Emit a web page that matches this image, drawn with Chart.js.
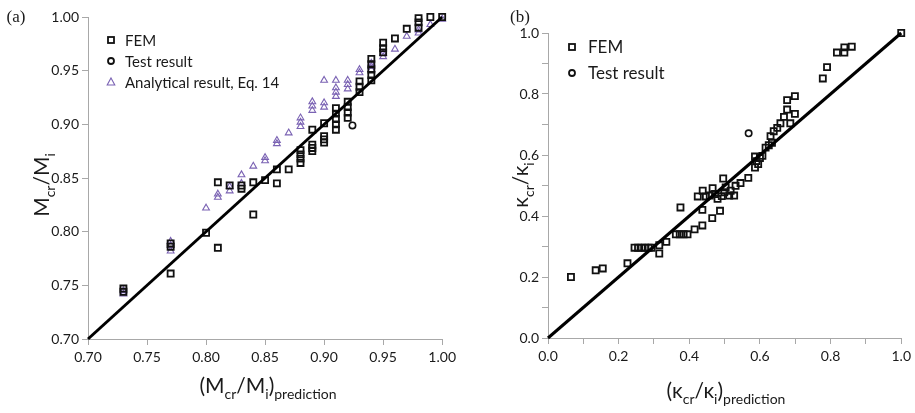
<!DOCTYPE html>
<html>
<head>
<meta charset="utf-8">
<script src="https://cdn.jsdelivr.net/npm/chart.js@4.4.0/dist/chart.umd.min.js"></script>
<style>
  html, body { margin: 0; padding: 0; background: #fff; }
  #wrap { position: relative; width: 915px; height: 413px; overflow: hidden; }
  canvas { position: absolute; top: 0; }
  #chartA { left: 0; }
  #chartB { left: 460px; }
</style>
</head>
<body>
<div id="wrap">
  <canvas id="chartA" width="460" height="413"></canvas>
  <canvas id="chartB" width="455" height="413"></canvas>
</div>
<script>
// ---------- (a) moment ratio Mcr/Mi ----------
const femA = [
  [0.73,0.747],[0.73,0.744],
  [0.77,0.789],[0.77,0.786],[0.77,0.761],
  [0.80,0.799],
  [0.81,0.846],[0.81,0.785],
  [0.82,0.843],
  [0.83,0.843],[0.83,0.840],
  [0.84,0.846],[0.84,0.816],
  [0.85,0.848],
  [0.86,0.858],[0.86,0.845],
  [0.87,0.858],
  [0.88,0.876],[0.88,0.872],[0.88,0.868],[0.88,0.864],
  [0.89,0.895],[0.89,0.881],[0.89,0.878],[0.89,0.875],
  [0.90,0.901],[0.90,0.889],[0.90,0.886],[0.90,0.883],
  [0.91,0.915],[0.91,0.910],[0.91,0.905],[0.91,0.900],[0.91,0.895],
  [0.92,0.921],[0.92,0.916],[0.92,0.911],[0.92,0.906],
  [0.93,0.940],[0.93,0.935],[0.93,0.930],
  [0.94,0.961],[0.94,0.956],[0.94,0.951],[0.94,0.946],[0.94,0.941],
  [0.95,0.976],[0.95,0.971],[0.95,0.967],
  [0.96,0.980],
  [0.97,0.989],
  [0.98,0.999],[0.98,0.995],[0.98,0.990],
  [0.99,1.000],
  [1.00,1.000]
];
const testA = [[0.924,0.899]];
const analyticA = [
  [0.73,0.742],[0.73,0.745],
  [0.77,0.782],[0.77,0.787],[0.77,0.791],
  [0.80,0.822],
  [0.81,0.832],[0.81,0.835],
  [0.82,0.838],[0.82,0.842],
  [0.83,0.845],[0.83,0.853],
  [0.84,0.861],
  [0.85,0.866],[0.85,0.869],
  [0.86,0.882],[0.86,0.885],
  [0.87,0.892],
  [0.88,0.906],[0.88,0.902],[0.88,0.898],
  [0.89,0.921],[0.89,0.917],[0.89,0.913],
  [0.90,0.941],[0.90,0.920],[0.90,0.916],
  [0.91,0.941],[0.91,0.934],[0.91,0.930],[0.91,0.926],
  [0.92,0.941],[0.92,0.937],[0.92,0.933],
  [0.93,0.951],[0.93,0.948],
  [0.94,0.957],[0.94,0.954],[0.94,0.951],
  [0.95,0.966],[0.95,0.963],
  [0.96,0.970],
  [0.97,0.982],
  [0.98,0.988],[0.98,0.985],
  [0.99,0.993],
  [1.00,0.998]
];
const equalityA = [[0.70,0.70],[1.00,1.00]];

// ---------- (b) curvature ratio κcr/κi ----------
const femB = [
  [0.065,0.200],[0.135,0.222],[0.155,0.228],[0.225,0.245],
  [0.245,0.296],[0.255,0.296],[0.265,0.296],[0.275,0.296],[0.285,0.296],[0.293,0.296],
  [0.315,0.304],[0.315,0.277],[0.335,0.315],
  [0.375,0.428],[0.362,0.340],[0.373,0.340],[0.384,0.340],[0.395,0.340],
  [0.415,0.356],[0.437,0.369],[0.437,0.420],[0.465,0.393],[0.487,0.417],
  [0.424,0.464],[0.438,0.483],[0.447,0.464],[0.458,0.467],[0.466,0.491],
  [0.473,0.472],[0.480,0.456],[0.492,0.465],[0.499,0.478],[0.503,0.494],
  [0.513,0.467],[0.517,0.483],[0.527,0.467],[0.531,0.499],[0.545,0.508],
  [0.567,0.525],[0.496,0.523],[0.586,0.559],[0.586,0.595],
  [0.590,0.580],[0.600,0.590],[0.607,0.597],[0.595,0.570],
  [0.616,0.624],[0.625,0.632],[0.634,0.640],[0.630,0.662],[0.639,0.678],
  [0.649,0.689],[0.658,0.704],[0.686,0.704],[0.668,0.725],[0.699,0.735],
  [0.677,0.749],[0.677,0.780],[0.699,0.793],
  [0.778,0.851],[0.790,0.888],[0.818,0.936],[0.839,0.936],[0.839,0.953],[0.860,0.955],
  [1.000,1.000]
];
const testB = [[0.568,0.671]];
const equalityB = [[0.0,0.0],[1.0,1.0]];

// tick settings
const ticksA = { min: 0.70, max: 1.00, step: 0.05, digits: 2 };
const ticksB = { min: 0.0, max: 1.0, step: 0.1, digits: 1, labelEvery: 2 };

const pts = arr => arr.map(p => ({ x: p[0], y: p[1] }));

const AXIS_GREY = '#a8a8a8';
const TEXT = '#1a1a1a';
const PURPLE = '#7a62b3';

function axis(t, size, isX) {
  return {
    type: 'linear',
    min: t.min, max: t.max,
    afterFit: s => { if (isX) s.height = size; else s.width = size; },
    ticks: {
      stepSize: t.step,
      autoSkip: false,
      maxRotation: 0,
      padding: isX ? 4 : 3,
      color: TEXT,
      font: { family: 'Lato', size: 14 },
      callback: v => {
        if (t.labelEvery) {
          const k = Math.round((v - t.min) / t.step);
          return k % t.labelEvery === 0 ? Number(v).toFixed(t.digits) : '';
        }
        return Number(v).toFixed(t.digits);
      }
    },
    grid: { drawOnChartArea: false, drawTicks: true, tickLength: 6, color: AXIS_GREY, lineWidth: 1 },
    border: { display: true, color: AXIS_GREY, width: 1 }
  };
}

// rich text with subscripts: parts = [[text, isSub], ...]
function drawRich(ctx, parts, cx, baseline, size, rotate) {
  const mainFont = size + 'px Lato';
  const subFont = Math.round(size * 0.66) + 'px Lato';
  ctx.save();
  let total = 0;
  const widths = parts.map(p => { ctx.font = p[1] ? subFont : mainFont; const w = ctx.measureText(p[0]).width; total += w; return w; });
  if (rotate) { ctx.translate(cx, baseline); ctx.rotate(-Math.PI / 2); ctx.translate(-cx, -baseline); }
  let x = cx - total / 2;
  ctx.fillStyle = TEXT;
  ctx.textBaseline = 'alphabetic';
  ctx.textAlign = 'left';
  parts.forEach((p, i) => {
    ctx.font = p[1] ? subFont : mainFont;
    ctx.fillText(p[0], x, baseline + (p[1] ? size * 0.28 : 0));
    x += widths[i];
  });
  ctx.restore();
}

function drawSymbol(ctx, style, color, x, y) {
  ctx.save();
  ctx.strokeStyle = color;
  if (style === 'rect') {
    ctx.lineWidth = 1.8; ctx.strokeRect(x - 3, y - 3, 6, 6);
  } else if (style === 'circle') {
    ctx.lineWidth = 1.8; ctx.beginPath(); ctx.arc(x, y, 3, 0, Math.PI * 2); ctx.stroke();
  } else if (style === 'triangle') {
    ctx.lineWidth = 1.1; ctx.beginPath();
    ctx.moveTo(x, y - 4); ctx.lineTo(x + 3.8, y + 3); ctx.lineTo(x - 3.8, y + 3); ctx.closePath(); ctx.stroke();
  }
  ctx.restore();
}

const decor = {
  id: 'decor',
  afterDraw(chart, args, o) {
    const ctx = chart.ctx;
    // panel tag
    ctx.save();
    ctx.fillStyle = TEXT; ctx.font = '17px "Liberation Serif"';
    ctx.textAlign = 'center'; ctx.textBaseline = 'middle';
    ctx.fillText(o.tag, o.tagX, o.tagY);
    ctx.restore();
    // axis titles
    drawRich(ctx, o.xTitle, o.xTitleX, o.xTitleY, 21, false);
    drawRich(ctx, o.yTitle, o.yTitleX, o.yTitleY, 21, true);
    // legend
    let y = o.legendY;
    chart.data.datasets.forEach(ds => {
      if (!ds.inLegend) return;
      drawSymbol(ctx, ds.pointStyle, ds.borderColor, o.legendX, y);
      ctx.save();
      ctx.fillStyle = TEXT; ctx.font = o.legendFont + 'px Lato';
      ctx.textAlign = 'left'; ctx.textBaseline = 'middle';
      ctx.fillText(ds.label, o.legendX + o.legendGap, y + 1);
      ctx.restore();
      y += o.legendStep;
    });
  }
};

function equalityLine(arr) {
  return { type: 'line', label: 'y = x', data: pts(arr), borderColor: '#000', borderWidth: 3,
           pointRadius: 0, fill: false, order: 0, clip: false, inLegend: false };
}
function fem(arr) {
  return { label: 'FEM', data: pts(arr), pointStyle: 'rect', pointRadius: 4.3, borderColor: '#111',
           backgroundColor: 'rgba(0,0,0,0)', borderWidth: 1.8, order: 2, clip: false, inLegend: true };
}
function tests(arr) {
  return { label: 'Test result', data: pts(arr), pointStyle: 'circle', pointRadius: 3.2, borderColor: '#111',
           backgroundColor: 'rgba(0,0,0,0)', borderWidth: 1.6, order: 1, clip: false, inLegend: true };
}

new Chart(document.getElementById('chartA'), {
  type: 'scatter',
  data: {
    datasets: [
      equalityLine(equalityA),
      fem(femA),
      tests(testA),
      { label: 'Analytical result, Eq. 14', data: pts(analyticA), pointStyle: 'triangle', pointRadius: 3.9,
        borderColor: PURPLE, backgroundColor: 'rgba(0,0,0,0)', borderWidth: 1.1, order: 3, clip: false, inLegend: true }
    ]
  },
  options: {
    responsive: false, animation: false, devicePixelRatio: 1,
    layout: { padding: { left: 0, right: 17, top: 17, bottom: 0 } },
    scales: { x: axis(ticksA, 74, true), y: axis(ticksA, 88, false) },
    plugins: {
      legend: { display: false }, tooltip: { enabled: false },
      decor: { tag: '(a)', tagX: 16, tagY: 18,
        xTitle: [['(M',0],['cr',1],['/M',0],['i',1],[')',0],['prediction',1]], xTitleX: 268, xTitleY: 393,
        yTitle: [['M',0],['cr',1],['/M',0],['i',1]], yTitleX: 49, yTitleY: 185,
        legendX: 111, legendY: 40, legendStep: 21, legendGap: 14, legendFont: 15 }
    }
  },
  plugins: [decor]
});

new Chart(document.getElementById('chartB'), {
  type: 'scatter',
  data: {
    datasets: [ equalityLine(equalityB), fem(femB), tests(testB) ]
  },
  options: {
    responsive: false, animation: false, devicePixelRatio: 1,
    layout: { padding: { left: 0, right: 12, top: 33, bottom: 0 } },
    scales: { x: axis(ticksB, 75, true), y: axis(ticksB, 88, false) },
    plugins: {
      legend: { display: false }, tooltip: { enabled: false },
      decor: { tag: '(b)', tagX: 60, tagY: 18,
        xTitle: [['(κ',0],['cr',1],['/κ',0],['i',1],[')',0],['prediction',1]], xTitleX: 266, xTitleY: 398,
        yTitle: [['κ',0],['cr',1],['/κ',0],['i',1]], yTitleX: 68, yTitleY: 185,
        legendX: 112, legendY: 47, legendStep: 26, legendGap: 16, legendFont: 17 }
    }
  },
  plugins: [decor]
});
</script>
</body>
</html>
